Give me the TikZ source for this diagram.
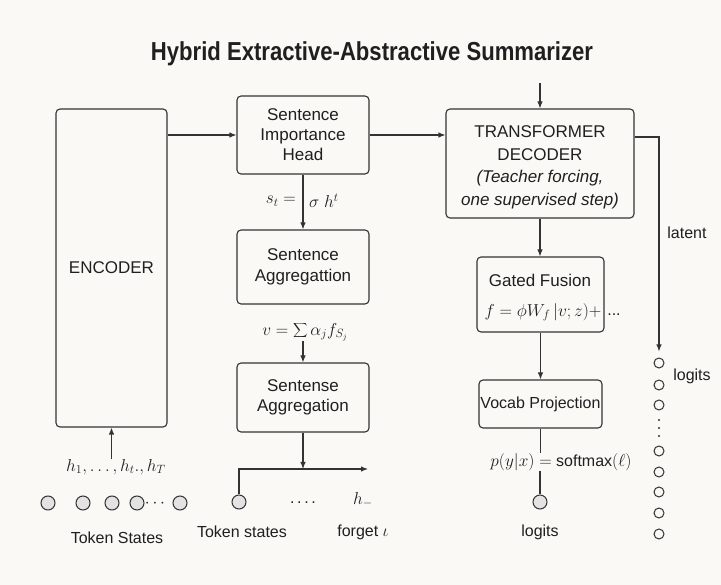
\documentclass[tikz,border=0pt]{standalone}
\usepackage{fontspec}
\setmainfont{Liberation Sans}
\usepackage{graphicx}
\usetikzlibrary{arrows.meta}
\definecolor{bg}{HTML}{FAF9F6}
\definecolor{lnc}{HTML}{333333}
\definecolor{tx}{HTML}{1F1F1F}
\definecolor{tok}{HTML}{E3E3E3}
\tikzset{
  box/.style={draw=lnc, line width=1.1pt, rounded corners=4pt, fill=bg, inner sep=0pt, align=center, text=tx, font=\fontsize{17}{20}\selectfont},
  arr/.style={draw=lnc, line width=1.1pt, -{Latex[length=7pt,width=5.5pt]}},
  conn/.style={draw=lnc, line width=1.1pt},
  lbl/.style={text=tx, font=\fontsize{16}{19}\selectfont, inner sep=0pt},
  mth/.style={text=tx, font=\fontsize{17}{20}\selectfont, inner sep=0pt},
  tokc/.style={circle, draw=lnc, line width=1pt, fill=tok, minimum size=14pt, inner sep=0pt},
  outc/.style={circle, draw=lnc, line width=1pt, fill=bg, minimum size=10pt, inner sep=0pt}
}
\begin{document}
\begin{tikzpicture}[x=1pt,y=-1pt]
\fill[bg] (0,0) rectangle (721,585);
\useasboundingbox (0,0) rectangle (721,585);

\node[text=tx, font=\bfseries\fontsize{26}{30}\selectfont, inner sep=0pt] (title) at (372,54)
  {\scalebox{0.85}[1]{Hybrid Extractive-Abstractive Summarizer}};

% boxes
\node[box, minimum width=111pt, minimum height=318pt] (enc) at (111.5,268) {ENCODER};
\node[box, minimum width=132pt, minimum height=78pt] (sih) at (303,135) {Sentence\\Importance\\Head};
\node[box, minimum width=132pt, minimum height=74pt, font=\fontsize{17}{21}\selectfont] (sa1) at (303,267) {Sentence\\Aggregattion};
\node[box, minimum width=132pt, minimum height=69pt] (sa2) at (303,397.5) {Sentense\\Aggregation};
\node[box, minimum width=188pt, minimum height=109pt] (dec) at (540,163.5) {};
\node[align=center, text=tx, inner sep=0pt, font=\fontsize{17}{22.5}\selectfont] (dect) at (540,167.5)
  {TRANSFORMER\\DECODER\\\textit{(Teacher forcing,}\\\textit{one supervised step)}};
\node[box, minimum width=127pt, minimum height=75pt] (gf) at (540.5,294.5) {};
\node[lbl, font=\fontsize{17}{20}\selectfont] (gft) at (540,280) {Gated Fusion};
\node[mth] (gff) at (543,312) {$f=\phi W_f\,|v;z)+$};
\node[lbl] (gfd) at (614,315) {...};
\node[box, minimum width=123pt, minimum height=48pt, font=\fontsize{16}{19}\selectfont] (vp) at (540.5,404) {Vocab Projection};

% encoder input
\node[tokc] (t1) at (48,503) {};
\node[tokc] (t2) at (83,503) {};
\node[tokc] (t3) at (112,503) {};
\node[tokc] (t4) at (137,503) {};
\node[lbl] (tdots) at (155,504) {$\cdots$};
\node[tokc] (t5) at (180,503) {};
\node[mth] (hf) at (116,467) {$h_1,\ldots,h_t.,h_T$};
\node[lbl] (ts) at (117,538) {Token States};
\draw[arr] (hf.north -| enc.south) -- (enc.south);

% encoder -> head -> decoder
\draw[arr] (enc.east |- sih.west) -- (sih.west);
\draw[arr] (sih.east) -- (sih.east -| dec.west);
\draw[arr] (sih.south) -- (sa1.north);
\node[mth, anchor=east] (st) at (296,201) {$s_t =$};
\node[mth, anchor=west] (sh) at (309,201) {$\sigma\ h^{t}$};

\node[mth] (vf) at (305,332) {$v=\displaystyle\sum\alpha_j f_{S_j}$};
\draw[arr] (vf.south -| sa2.north) -- (sa2.north);

% bus under second aggregation
\coordinate (busL) at (239,469);
\coordinate (busR) at (368,469);
\node[tokc] (tsc) at (239,502) {};
\draw[arr] (sa2.south) -- (sa2.south |- busL);
\draw[arr] (tsc.north) |- (busR);
\node[lbl] (mdots) at (303,503) {.\,.\,.\,.};
\node[mth] (hh) at (363,500) {$h_{-}$};
\node[lbl] (tsl) at (242,532) {Token states};
\node[lbl] (fg) at (363,532) {forget $\iota$};

% decoder column
\coordinate (din) at (540,83);
\draw[arr] (din) -- (dec.north);
\draw[arr] (dec.south) -- (dec.south |- gf.north);
\draw[arr] (gf.south) -- (vp.north);
\node[lbl] (pf) at (561,462) {$p(y|x) =$ softmax$(\ell)$};
\node[tokc] (lc) at (540,502) {};
\draw[conn] (vp.south) -- (vp.south |- pf.north);
\draw[conn] (lc.north) -- (lc.north |- pf.south);
\node[lbl] (lg) at (540,532) {logits};

% latent column
\coordinate (lt) at (659,137);
\node[outc] (r1) at (659,363) {};
\node[outc] (r2) at (659,385) {};
\node[outc] (r3) at (659,405) {};
\node[outc] (r4) at (659,451) {};
\node[outc] (r5) at (659,472) {};
\node[outc] (r6) at (659,492) {};
\node[outc] (r7) at (659,513) {};
\node[outc] (r8) at (659,534) {};
\fill[lnc] (659,420) circle (1.1pt);
\fill[lnc] (659,428) circle (1.1pt);
\fill[lnc] (659,436) circle (1.1pt);
\draw[arr, shorten >=6pt] (dec.east |- lt) -- (lt) -- (r1.north);
\node[lbl] (lat) at (687,233) {latent};
\node[lbl] (lg2) at (692,376) {logits};
\end{tikzpicture}
\end{document}
